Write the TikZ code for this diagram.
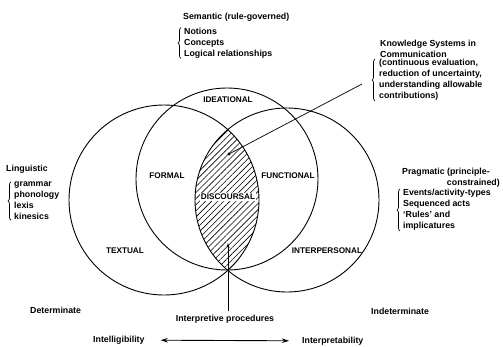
\documentclass[tikz,border=0pt]{standalone}
\usepackage{fontspec}
\setmainfont{Liberation Sans}
\usetikzlibrary{arrows.meta,patterns.meta,decorations.pathreplacing}
\tikzset{>={Stealth[length=7pt,width=4.5pt]}}
\tikzset{
  lbl/.style={font=\fontsize{8.8}{11}\selectfont\bfseries, inner sep=0pt},
  caps/.style={font=\fontsize{8.2}{9}\selectfont\bfseries, inner sep=1pt},
  ring/.style={line width=0.9pt},
  brc/.style={decorate, decoration={brace, amplitude=3pt}, line width=0.7pt},
}

\begin{document}
\begin{tikzpicture}[x=1pt, y=-1pt]
    \useasboundingbox (0,0) rectangle (503,346);
    \coordinate (L) at (164,200);
    \coordinate (R) at (287,200);
    \coordinate (T) at (227,179);
    \begin{scope}
    \clip (L) circle [radius=95pt];
    \fill[pattern={Lines[angle=45,distance=4.3pt,line width=0.6pt]}] (R) circle [radius=92pt];
    \end{scope}
    \draw[ring] (L) circle [radius=95pt];
    \draw[ring] (R) circle [radius=92pt];
    \draw[ring] (T) circle [radius=91pt];
    \node[caps] (ideational) at (228,100) {IDEATIONAL};
    \node[caps] (formal) at (167,176) {FORMAL};
    \node[caps] (functional) at (288,176) {FUNCTIONAL};
    \node[caps, fill=white] (discoursal) at (228,197) {DISCOURSAL};
    \node[caps] (textual) at (125,251) {TEXTUAL};
    \node[caps] (interpersonal) at (327,251) {INTERPERSONAL};
    \node[lbl, anchor=west] (sem) at (183,17) {Semantic (rule-governed)};
    \node[lbl, anchor=west, align=left] (semlist) at (184,43) {Notions\\Concepts\\Logical relationships};
    \node[lbl, anchor=west, align=left] (kstitle) at (380,48.5) {Knowledge Systems in\\Communication};
    \node[lbl, anchor=west, align=left] (kslist) at (379,80) {(continuous evaluation,\\reduction of uncertainty,\\understanding allowable\\contributions)};
    \node[lbl, anchor=west] (ling) at (6,169) {Linguistic};
    \node[lbl, anchor=west, align=left] (linglist) at (14,201) {grammar\\phonology\\lexis\\kinesics};
    \node[lbl, anchor=west] (prag) at (402,172) {Pragmatic (principle-};
    \node[lbl, anchor=east] (prag2) at (500,183) {constrained)};
    \node[lbl, anchor=west, align=left] (praglist) at (403,210) {Events/activity-types\\Sequenced acts\\`Rules' and\\implicatures};
    \node[lbl, anchor=west] (det) at (30,310) {Determinate};
    \node[lbl, anchor=west] (indet) at (371,311) {Indeterminate};
    \node[lbl] (proc) at (225,319) {Interpretive procedures};
    \node[lbl, anchor=west] (intel) at (93,340) {Intelligibility};
    \node[lbl, anchor=west] (interp) at (302,341) {Interpretability};
    \draw[brc] ([xshift=-3pt]semlist.south west) -- ([xshift=-3pt]semlist.north west);
    \draw[brc] ([xshift=-4pt]kslist.south west) -- ([xshift=-4pt]kslist.north west);
    \draw[brc] ([xshift=-3pt]linglist.south west) -- ([xshift=-3pt]linglist.north west);
    \draw[brc] ([xshift=-3pt]praglist.south west) -- ([xshift=-3pt]praglist.north west);
    \coordinate (kdot) at (229,154);
    \coordinate (kend) at (362,84);
    \coordinate (ipdot) at (228,243);
    \coordinate (ipend) at (228,311);
    \fill (kdot) circle [radius=1.6pt];
    \draw[line width=0.7pt] (kdot) -- (kend);
    \draw[line width=0.8pt, -{Stealth[length=5pt,width=3pt]}] (ipend) -- (ipdot);
    \draw[line width=0.9pt, <->, shorten <=16pt, shorten >=13pt] (intel) -- (interp);
\end{tikzpicture}
\end{document}
